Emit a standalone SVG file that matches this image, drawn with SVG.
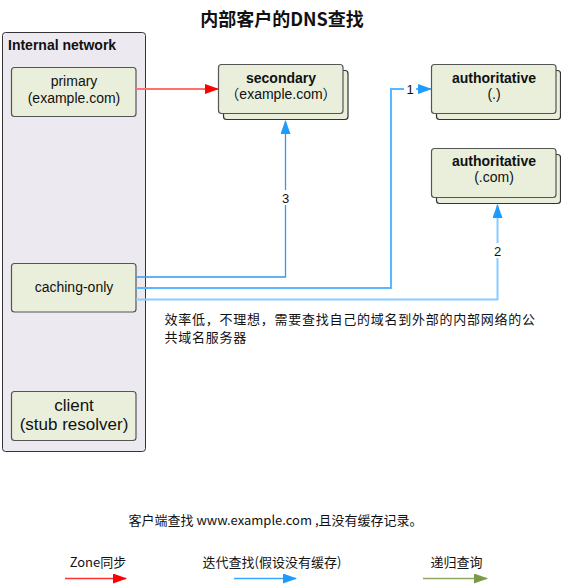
<svg xmlns="http://www.w3.org/2000/svg" width="561" height="584" viewBox="0 0 561 584">
<style>
text{font-family:"Liberation Sans","Noto Sans CJK SC",sans-serif;fill:#111}
.cjk{font-family:"Noto Sans CJK SC","Liberation Sans",sans-serif}
.box{fill:#E9EFDB;stroke:#555;stroke-width:1.2}
.shadow{fill:#E9EFDB;stroke:#333;stroke-width:1.2}
.lbl{font-size:14px;text-anchor:middle}
.b{font-weight:bold}
.num{font-size:13px;text-anchor:middle}
</style>
<defs>
<marker id="ar" markerWidth="14" markerHeight="10" refX="13" refY="5" orient="auto" markerUnits="userSpaceOnUse"><path d="M0,0 L14,5 L0,10 z" fill="#FF0000"/></marker>
<marker id="ab" markerWidth="14" markerHeight="10" refX="13" refY="5" orient="auto" markerUnits="userSpaceOnUse"><path d="M0,0 L14,5 L0,10 z" fill="#1E9BFF"/></marker>
<marker id="ag" markerWidth="14" markerHeight="10" refX="13" refY="5" orient="auto" markerUnits="userSpaceOnUse"><path d="M0,0 L14,5 L0,10 z" fill="#7A9A4A"/></marker>
</defs>
<rect width="561" height="584" fill="#fff"/>
<text x="282" y="26" class="cjk" font-size="18" font-weight="bold" text-anchor="middle">内部客户的DNS查找</text>

<g id="internal-network">
<rect x="2.5" y="32.5" width="143" height="419" rx="3" fill="#ECE9F0" stroke="#333" stroke-width="1"/>
<text x="8" y="50" font-size="14" class="b">Internal network</text>
</g>

<g id="primary">
<rect class="box" x="11.5" y="67.5" width="124.5" height="49" rx="3"/>
<text class="lbl" x="74" y="86">primary</text>
<text class="lbl" x="74" y="103">(example.com)</text>
</g>

<g id="caching-only">
<rect class="box" x="11.5" y="263.5" width="124.5" height="48.5" rx="3"/>
<text class="lbl" x="74" y="292">caching-only</text>
</g>

<g id="client">
<rect class="box" x="11.5" y="391.5" width="124.5" height="49" rx="3"/>
<text x="74" y="411" font-size="17" text-anchor="middle">client</text>
<text x="74" y="430" font-size="17" text-anchor="middle">(stub resolver)</text>
</g>

<g id="secondary">
<rect class="shadow" x="223.5" y="70.5" width="124.5" height="49" rx="3"/>
<rect class="box" x="218.5" y="64.5" width="124.5" height="49" rx="3" stroke="#333"/>
<text class="lbl b" x="281" y="83">secondary</text>
<text class="lbl" x="281" y="99">（example.com）</text>
</g>

<g id="authoritative-root">
<rect class="shadow" x="436.5" y="70.5" width="124" height="49" rx="3"/>
<rect class="box" x="431.5" y="64.5" width="124.5" height="49" rx="3" stroke="#333"/>
<text class="lbl b" x="494" y="83">authoritative</text>
<text class="lbl" x="494" y="99">(.)</text>
</g>

<g id="authoritative-com">
<rect class="shadow" x="436.5" y="154.5" width="124" height="49" rx="3"/>
<rect class="box" x="431.5" y="148.5" width="124.5" height="49" rx="3" stroke="#333"/>
<text class="lbl b" x="494" y="166">authoritative</text>
<text class="lbl" x="494" y="182">(.com)</text>
</g>

<g id="connectors">
<line x1="136" y1="89" x2="218" y2="89" stroke="#FF7070" stroke-width="2" marker-end="url(#ar)"/>
<polyline points="136,277 285.5,277 285.5,121" fill="none" stroke="#3399EE" stroke-width="1.3" marker-end="url(#ab)"/>
<rect x="279" y="190" width="13" height="15" fill="#fff"/>
<text class="num" x="285.5" y="203">3</text>
<polyline points="136,288 391,288 391,89 431,89" fill="none" stroke="#5AB6FF" stroke-width="2" marker-end="url(#ab)"/>
<rect x="404" y="82" width="12" height="15" fill="#fff"/>
<text class="num" x="410" y="94">1</text>
<polyline points="136,299.5 497.5,299.5 497.5,205" fill="none" stroke="#88CCFF" stroke-width="2" marker-end="url(#ab)"/>
<rect x="491" y="243" width="13" height="15" fill="#fff"/>
<text class="num" x="497.5" y="256">2</text>
</g>

<g id="note">
<text x="164.5" y="324" class="cjk" font-size="13" letter-spacing="0.75">效率低，不理想，需要查找自己的域名到外部的内部网络的公</text>
<text x="164.5" y="342" class="cjk" font-size="13" letter-spacing="0.75">共域名服务器</text>
</g>

<g id="caption">
<text x="275.5" y="525" class="cjk" font-size="13" text-anchor="middle">客户端查找 www.example.com ,且没有缓存记录。</text>
</g>

<g id="legend">
<text x="98" y="567" class="cjk" font-size="13" text-anchor="middle">Zone同步</text>
<line x1="65" y1="578.5" x2="126" y2="578.5" stroke="#FF3030" stroke-width="1.5" marker-end="url(#ar)"/>
<text x="272" y="567" class="cjk" font-size="13" text-anchor="middle">迭代查找(假设没有缓存)</text>
<line x1="234" y1="578.5" x2="296" y2="578.5" stroke="#3AA8FF" stroke-width="1.5" marker-end="url(#ab)"/>
<text x="456.5" y="567" class="cjk" font-size="13" text-anchor="middle">递归查询</text>
<line x1="423" y1="578.5" x2="487" y2="578.5" stroke="#8FA860" stroke-width="1.5" marker-end="url(#ag)"/>
</g>
</svg>
